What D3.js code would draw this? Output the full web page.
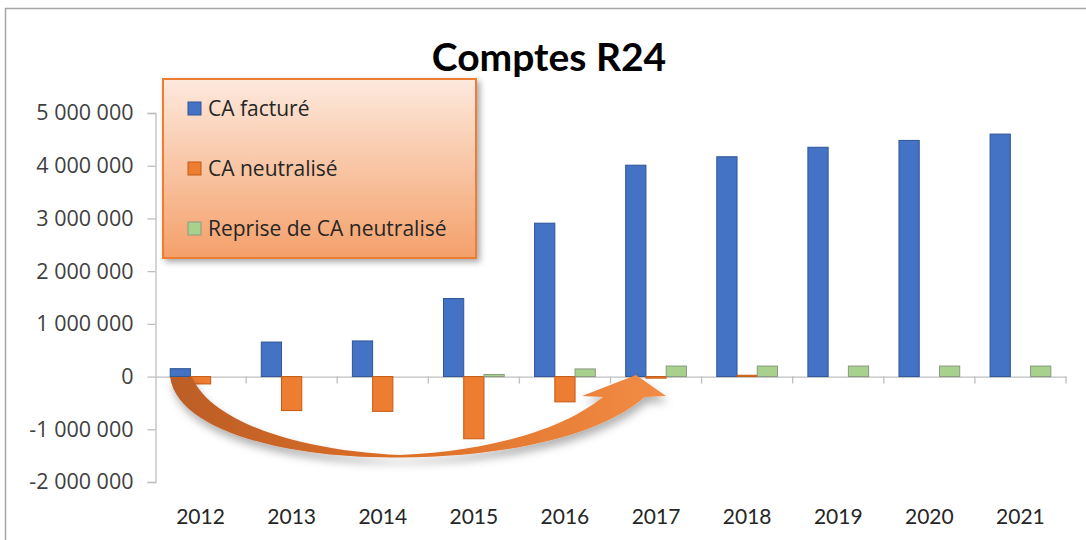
<!DOCTYPE html>
<html><head><meta charset="utf-8">
<script src="https://cdn.jsdelivr.net/npm/d3@7"></script>
<style>body{margin:0;background:#fff;}svg{display:block;}</style>
</head><body>
<svg id="chart" width="1086" height="540"></svg>
<script>
const years = ["2012","2013","2014","2015","2016","2017","2018","2019","2020","2021"];
const seriesNames = ["CA facturé","CA neutralisé","Reprise de CA neutralisé"];
const caFacture = [150000, 655000, 676000, 1480000, 2910000, 4010000, 4170000, 4350000, 4480000, 4600000];
const caNeutralise = [-140000, -645000, -660000, -1180000, -480000, -30000, 25000, 0, 0, 0];
const repriseCA = [0, 0, 0, 40000, 145000, 200000, 200000, 200000, 200000, 200000];
const yTicks = [-2000000, -1000000, 0, 1000000, 2000000, 3000000, 4000000, 5000000];
const colors = ["#4472c4", "#ed7d31", "#a9d18e"];
const strokes = ["#2f5597", "#c55a11", "#8a9a80"];

const svg = d3.select("#chart");
const defs = svg.append("defs");
const shadow = defs.append("filter").attr("id","shadow").attr("x","-20%").attr("y","-20%").attr("width","150%").attr("height","150%");
shadow.append("feDropShadow").attr("dx",3).attr("dy",3).attr("stdDeviation",3).attr("flood-color","#000").attr("flood-opacity",0.35);
const ashadow = defs.append("filter").attr("id","ashadow").attr("x","-20%").attr("y","-30%").attr("width","150%").attr("height","180%");
ashadow.append("feDropShadow").attr("dx",2).attr("dy",6).attr("stdDeviation",4).attr("flood-color","#000").attr("flood-opacity",0.3);
const lg = defs.append("linearGradient").attr("id","legGrad").attr("x1",0).attr("y1",0).attr("x2",0).attr("y2",1);
lg.append("stop").attr("offset","0%").attr("stop-color","#fde9dd");
lg.append("stop").attr("offset","100%").attr("stop-color","#f4a06a");
const ag = defs.append("linearGradient").attr("id","arrGrad").attr("x1",0).attr("y1",0).attr("x2",1).attr("y2",0);
ag.append("stop").attr("offset","0%").attr("stop-color","#bb5d28");
ag.append("stop").attr("offset","45%").attr("stop-color","#dc6e26");
ag.append("stop").attr("offset","100%").attr("stop-color","#f28c45");

// frame
svg.append("line").attr("x1",5).attr("x2",1086).attr("y1",8.5).attr("y2",8.5).attr("stroke","#a6a6a6").attr("stroke-width",1.5);
svg.append("line").attr("x1",5.5).attr("x2",5.5).attr("y1",8).attr("y2",540).attr("stroke","#a6a6a6").attr("stroke-width",1.5);

const x0 = d3.scaleBand().domain(years).range([155, 1066]).paddingInner(0).paddingOuter(0);
const bw = x0.bandwidth();
const x1 = d3.scaleBand().domain(seriesNames).range([bw/6, bw*5/6]).padding(0);
const y = d3.scaleLinear().domain([-2000000, 5000000]).range([482, 113]);

const fmt = v => d3.format(",")(v).replace(/,/g, " ").replace("−","-");

// y axis
const yAxis = svg.append("g").attr("transform","translate(155.5,0)")
  .call(d3.axisLeft(y).tickValues(yTicks).tickSize(8).tickPadding(14).tickFormat(fmt));
yAxis.selectAll("path,line").attr("stroke","#bfbfbf").attr("stroke-width",1.3);
yAxis.selectAll("text").attr("font-family","'Open Sans', sans-serif").attr("font-size",21.5).attr("fill","#404040");

// x axis at zero
const xAxis = svg.append("g").attr("transform",`translate(0,${y(0)})`)
  .call(d3.axisBottom(x0).tickSize(0).tickFormat(""));
xAxis.select("path").attr("stroke","#bfbfbf").attr("stroke-width",1.3);
const boundaries = years.map((d,i)=> x0(d) + bw);
svg.append("g").selectAll("line").data(boundaries).join("line")
  .attr("x1",d=>d).attr("x2",d=>d).attr("y1",y(0)).attr("y2",y(0)+7)
  .attr("stroke","#bfbfbf").attr("stroke-width",1.3);

// x labels
svg.append("g").selectAll("text").data(years).join("text")
  .attr("x",d=>x0(d)+bw/2).attr("y",524).attr("text-anchor","middle")
  .attr("font-family","Lato, sans-serif").attr("font-size",21).attr("fill","#262626").text(d=>d);

// bars
const seriesData = [caFacture, caNeutralise, repriseCA];
seriesData.forEach((vals, si) => {
  svg.append("g").selectAll("rect").data(vals).join("rect")
    .attr("x",(d,i)=>x0(years[i]) + x1(seriesNames[si]))
    .attr("width", x1.bandwidth())
    .attr("y", d => y(Math.max(0,d)))
    .attr("height", d => Math.abs(y(d) - y(0)))
    .attr("fill", colors[si]).attr("stroke", strokes[si]).attr("stroke-width",1)
    .style("display", d => d === 0 ? "none" : null);
});

// curved arrow (annotation)
const arrowPath = "M170,377 L192,377 C212,424 305,451 400,455 C490,451 562,430 603,397 L582,396 L636,375 L666,396 L645,397 C597,438 500,457 400,457.5 C290,459 178,432 170,377 Z";
svg.append("path").attr("d",arrowPath).attr("fill","url(#arrGrad)").attr("filter","url(#ashadow)");

// legend
const leg = svg.append("g");
leg.append("rect").attr("x",163).attr("y",79).attr("width",313).attr("height",179)
  .attr("fill","url(#legGrad)").attr("stroke","#ed7d31").attr("stroke-width",2).attr("filter","url(#shadow)");
const legY = [109, 169, 229];
seriesNames.forEach((n,i)=>{
  leg.append("rect").attr("x",188).attr("y",legY[i]-7).attr("width",13).attr("height",13)
    .attr("fill",colors[i]).attr("stroke",strokes[i]).attr("stroke-width",1);
  leg.append("text").attr("x",208).attr("y",legY[i]).attr("dy","0.35em")
    .attr("font-family","'Open Sans', sans-serif").attr("font-size",21).attr("fill","#262626").text(n);
});

// title
svg.append("text").attr("x",549).attr("y",71).attr("text-anchor","middle")
  .attr("font-family","Lato, sans-serif").attr("font-weight","bold").attr("font-size",39).attr("fill","#000").text("Comptes R24");
</script>
</body></html>
